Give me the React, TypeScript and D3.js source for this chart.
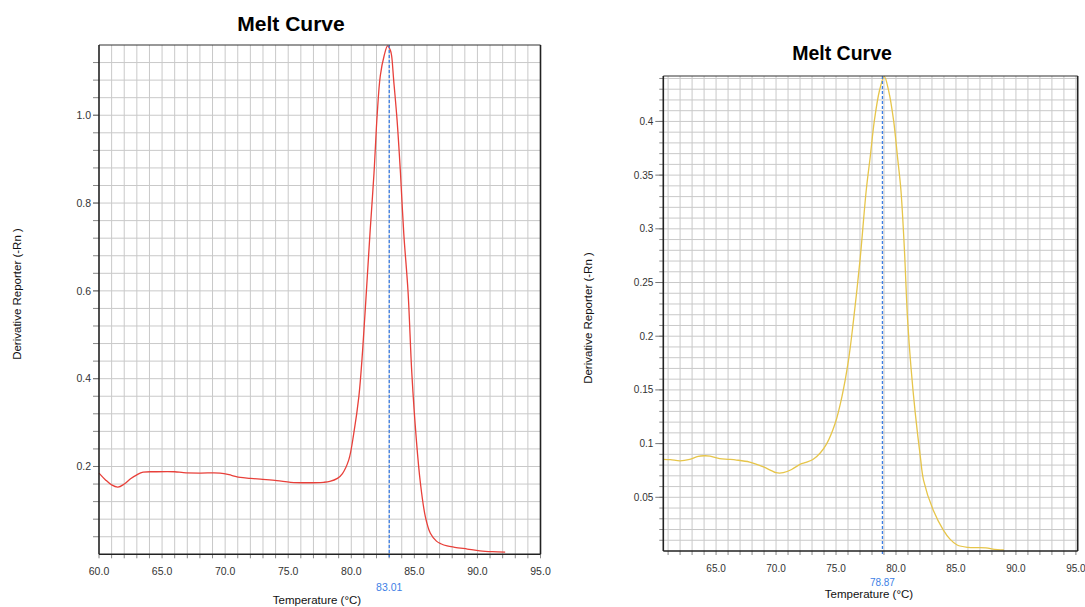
import React from 'react';
import * as d3 from 'd3';

// left panel: red trace, Tm 83.01
const leftTemps = [
  60.0, 60.5, 61.0, 61.5, 62.0, 62.5, 63.0, 63.5, 64.5, 66.0, 66.7, 68.0, 69.6, 70.5, 71.2, 72.0,
  72.8, 74.1, 75.2, 76.5, 77.8, 78.3, 78.9, 79.3, 79.8, 80.2, 80.6, 80.9, 81.2, 81.5, 81.8, 82.05,
  82.3, 82.6, 82.88, 83.1, 83.2, 83.36, 83.63, 83.9, 84.16, 84.5, 84.8, 85.16, 85.48, 85.87, 86.27,
  86.75, 87.1, 87.6, 88.2, 89.2, 90.2, 91.2, 92.2,
];
const leftDeriv = [
  0.185, 0.17, 0.158, 0.153, 0.16, 0.172, 0.181, 0.187, 0.188, 0.188, 0.186, 0.185, 0.185, 0.18,
  0.175, 0.173, 0.171, 0.168, 0.164, 0.163, 0.164, 0.166, 0.173, 0.184, 0.215, 0.276, 0.359, 0.465,
  0.6, 0.739, 0.868, 1.0, 1.09, 1.135, 1.158, 1.148, 1.135, 1.08, 0.989, 0.868, 0.731, 0.598, 0.412,
  0.26, 0.162, 0.086, 0.048, 0.03, 0.024, 0.019, 0.016, 0.012, 0.008, 0.006, 0.005,
];
const leftTm = 83.01;
const leftXTicks = [60, 65, 70, 75, 80, 85, 90, 95];
const leftYTicks = [0.2, 0.4, 0.6, 0.8, 1.0];

// right panel: yellow trace, Tm 78.87
const rightTemps = [
  60.6, 61.2, 62.0, 62.8, 63.5, 64.0, 64.5, 65.3, 66.0, 66.7, 67.8, 68.9, 69.6, 70.0, 70.6, 71.3,
  72.0, 72.5, 73.1, 73.7, 74.24, 74.93, 75.49, 76.04, 76.46, 77.0, 77.52, 77.85, 78.2, 78.63, 79.02,
  79.38, 79.8, 80.13, 80.41, 80.69, 80.97, 81.25, 81.61, 82.03, 82.3, 83.1, 83.95, 84.5, 85.1, 86.0,
  87.5, 88.2, 89.0,
];
const rightDeriv = [
  0.0854, 0.0851, 0.084, 0.0854, 0.0881, 0.0887, 0.0884, 0.086, 0.0854, 0.0847, 0.0828, 0.0785,
  0.0749, 0.0729, 0.0729, 0.0759, 0.0807, 0.0825, 0.0854, 0.0915, 0.1002, 0.1189, 0.1436, 0.1777,
  0.215, 0.2708, 0.3359, 0.3669, 0.401, 0.429, 0.442, 0.429, 0.401, 0.3665, 0.3362, 0.2835, 0.215,
  0.1711, 0.1281, 0.0878, 0.0658, 0.0382, 0.0195, 0.0111, 0.0056, 0.0034, 0.003, 0.0015, 0.001,
];
const rightTm = 78.87;
const rightXTicks = [65, 70, 75, 80, 85, 90, 95];
const rightYTicks = [0.05, 0.1, 0.15, 0.2, 0.25, 0.3, 0.35, 0.4];

const FONT = '"Liberation Sans", Arial, sans-serif';
const GRID = '#c9c9c9';
const TM_BLUE = '#3d7fe6';

const MeltPanel = ({ cfg }) => {
  const x = d3.scaleLinear().domain(cfg.xDomain).range([cfg.left, cfg.right]);
  const y = d3.scaleLinear().domain([0, cfg.yMax]).range([cfg.bottom, cfg.top]);

  const line = d3
    .line<number>()
    .x((d, i) => x(cfg.temps[i]))
    .y((d) => y(d))
    .curve(d3.curveCatmullRom.alpha(0.5));

  // one grid line per degree, and per yStep
  const xGrid = d3.range(Math.ceil(cfg.xDomain[0] + 0.01), cfg.xDomain[1] + 0.001, 1);
  const nY = Math.floor(cfg.yMax / cfg.yStep + 1e-6);
  const yGrid = d3.range(1, nY + 1).map((i) => i * cfg.yStep).filter((v) => y(v) > cfg.top + 1);
  const fmtY = d3.format(cfg.yFormat);

  return (
    <g>
      <text x={cfg.titleX} y={cfg.titleY} textAnchor="middle" fontFamily={FONT}
        fontWeight="bold" fontSize={cfg.titleSize} fill="#000">Melt Curve</text>

      <rect x={cfg.left} y={cfg.top} width={cfg.right - cfg.left} height={cfg.bottom - cfg.top} fill="#fff" />

      {xGrid.map((t) => (
        <line key={'gx' + t} x1={x(t)} x2={x(t)} y1={cfg.top} y2={cfg.bottom} stroke={GRID} strokeWidth={1} />
      ))}
      {yGrid.map((v, i) => (
        <line key={'gy' + i} x1={cfg.left} x2={cfg.right} y1={y(v)} y2={y(v)} stroke={GRID} strokeWidth={1} />
      ))}

      {/* small ticks under the x axis, every degree */}
      {d3.range(Math.ceil(cfg.xDomain[0]), cfg.xDomain[1] + 0.001, 1).map((t) => (
        <line key={'tx' + t} x1={x(t)} x2={x(t)} y1={cfg.bottom} y2={cfg.bottom + 4} stroke="#888" strokeWidth={1} />
      ))}
      {/* ticks left of the y axis */}
      {yGrid.map((v, i) => (
        <line key={'ty' + i} x1={cfg.left - (cfg.minorTick || 0)} x2={cfg.left} y1={y(v)} y2={y(v)} stroke="#888" strokeWidth={1} />
      ))}
      {cfg.yTicks.map((v) => (
        <line key={'my' + v} x1={cfg.left - cfg.majorTick} x2={cfg.left} y1={y(v)} y2={y(v)} stroke="#777" strokeWidth={1} />
      ))}

      <path d={line(cfg.deriv)} fill="none" stroke={cfg.color} strokeWidth={1.3} />

      <line x1={x(cfg.tm)} x2={x(cfg.tm)} y1={cfg.top} y2={cfg.bottom + 3} stroke={TM_BLUE}
        strokeWidth={1.3} strokeDasharray="3,2" />

      {/* frame */}
      <line x1={cfg.left} x2={cfg.right} y1={cfg.top} y2={cfg.top} stroke="#333" strokeWidth={1.2} />
      <line x1={cfg.right} x2={cfg.right} y1={cfg.top} y2={cfg.bottom} stroke="#222" strokeWidth={1.6} />
      <line x1={cfg.left} x2={cfg.left} y1={cfg.top} y2={cfg.bottom} stroke="#222" strokeWidth={1.6} />
      <line x1={cfg.left} x2={cfg.right} y1={cfg.bottom} y2={cfg.bottom} stroke="#222" strokeWidth={1.6} />

      {cfg.xTicks.map((t) => (
        <text key={'lx' + t} x={x(t)} y={cfg.xLabelY} textAnchor="middle" fontFamily={FONT}
          fontSize={cfg.tickSize} fill="#333">{t.toFixed(1)}</text>
      ))}
      {cfg.yTicks.map((v) => (
        <text key={'ly' + v} x={cfg.left - cfg.majorTick - 2} y={y(v)} dy="0.35em" textAnchor="end"
          fontFamily={FONT} fontSize={cfg.tickSize} fill="#333">{fmtY(v)}</text>
      ))}

      <text x={x(cfg.tm)} y={cfg.tmLabelY} textAnchor="middle" fontFamily={FONT} fontSize={cfg.tickSize}
        fill={TM_BLUE}>{cfg.tm.toFixed(2)}</text>
      <text x={cfg.xTitleX} y={cfg.xTitleY} textAnchor="middle" fontFamily={FONT} fontSize={cfg.axisTitleSize}
        fill="#111">Temperature (°C)</text>
      <text transform={`translate(${cfg.yTitleX},${cfg.yTitleY}) rotate(-90)`} textAnchor="middle"
        fontFamily={FONT} fontSize={cfg.axisTitleSize} fill="#111">Derivative Reporter (-Rn )</text>
    </g>
  );
};

const leftCfg = {
  temps: leftTemps, deriv: leftDeriv, tm: leftTm, color: '#e8403a',
  xDomain: [60, 95], yMax: 1.16, yStep: 0.04, yTicks: leftYTicks, xTicks: leftXTicks, yFormat: '.1f',
  left: 99, right: 540.5, top: 45, bottom: 554.3,
  titleX: 291, titleY: 30.5, titleSize: 21,
  xLabelY: 575, tmLabelY: 590.5, xTitleX: 317, xTitleY: 603.5, yTitleX: 21, yTitleY: 294,
  tickSize: 10.5, axisTitleSize: 11.5, majorTick: 6, minorTick: 6,
};

const rightCfg = {
  temps: rightTemps, deriv: rightDeriv, tm: rightTm, color: '#e6c54a',
  xDomain: [60.6, 95.15], yMax: 0.4423, yStep: 0.01, yTicks: rightYTicks, xTicks: rightXTicks, yFormat: '',
  left: 663.3, right: 1077.7, top: 76, bottom: 551,
  titleX: 842, titleY: 59.5, titleSize: 19.5,
  xLabelY: 571.5, tmLabelY: 586, xTitleX: 869, xTitleY: 598, yTitleX: 592, yTitleY: 318,
  tickSize: 10, axisTitleSize: 11.5, majorTick: 8, minorTick: 4,
};

export default function App() {
  return (
    <svg width={1085} height={607} style={{ position: 'absolute', left: 0, top: 0, background: '#fff' }}>
      <rect width={1085} height={607} fill="#fff" />
      <MeltPanel cfg={leftCfg} />
      <MeltPanel cfg={rightCfg} />
    </svg>
  );
}
